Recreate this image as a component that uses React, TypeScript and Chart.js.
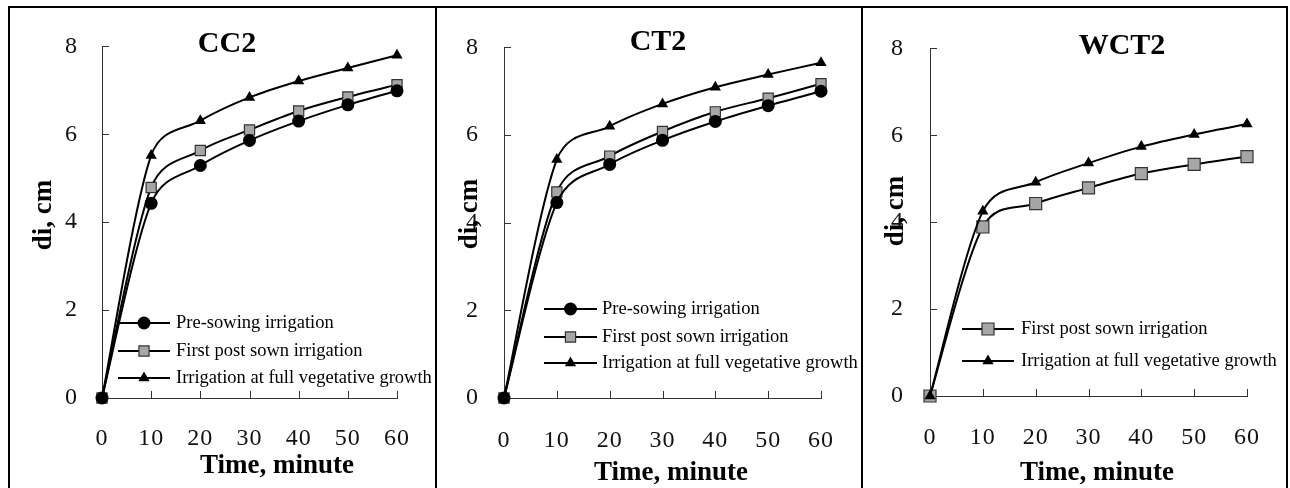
import React, { useEffect, useRef } from 'react';
import { Chart, registerables } from 'chart.js';

Chart.register(...registerables);

// ---------- data ----------
const timeMinutes = [0, 10, 20, 30, 40, 50, 60];
const yTickStep = 2;
const xTickStep = 10;

const cc2PreSowing = [0, 4.43, 5.29, 5.86, 6.3, 6.67, 6.99];
const cc2FirstPost = [0, 4.79, 5.63, 6.1, 6.53, 6.85, 7.13];
const cc2FullVeg = [0, 5.52, 6.31, 6.84, 7.21, 7.51, 7.8];

const ct2PreSowing = [0, 4.46, 5.33, 5.88, 6.31, 6.67, 7.0];
const ct2FirstPost = [0, 4.7, 5.52, 6.08, 6.53, 6.84, 7.17];
const ct2FullVeg = [0, 5.44, 6.2, 6.71, 7.09, 7.38, 7.65];

const wct2FirstPost = [0, 3.89, 4.43, 4.79, 5.12, 5.33, 5.51];
const wct2FullVeg = [0, 4.25, 4.92, 5.36, 5.74, 6.02, 6.26];

const labelPreSowing = 'Pre-sowing irrigation';
const labelFirstPost = 'First post sown irrigation';
const labelFullVeg = 'Irrigation at full vegetative growth';

const xAxisTitle = 'Time, minute';
const yAxisTitle = 'di, cm';

// ---------- styles ----------
const SERIF = '"Liberation Serif", "Times New Roman", Times, serif';

type SeriesStyle = {
  pointStyle: 'circle' | 'rect' | 'triangle';
  radius: number;
  fill: string;
  stroke: string;
  pointBorderWidth: number;
};

const stylePre: SeriesStyle = { pointStyle: 'circle', radius: 6.5, fill: '#000', stroke: '#000', pointBorderWidth: 0 };
const styleFirst: SeriesStyle = { pointStyle: 'rect', radius: 7.2, fill: '#a6a6a6', stroke: '#333', pointBorderWidth: 1.2 };
const styleFirstBig: SeriesStyle = { pointStyle: 'rect', radius: 8.5, fill: '#a6a6a6', stroke: '#333', pointBorderWidth: 1.2 };
const styleFull: SeriesStyle = { pointStyle: 'triangle', radius: 6.5, fill: '#000', stroke: '#000', pointBorderWidth: 0 };

type Series = { label: string; values: number[]; style: SeriesStyle; order: number };

type PanelCfg = {
  title: string;
  series: Series[];
  boxLeft: number;
  boxWidth: number;
  area: { left: number; top: number; right: number; bottom: number };
  yTickPad: number;
  xTickPad: number;
  titlePos: [number, number];
  yTitlePos: [number, number];
  xTitlePos: [number, number];
  legend: { x1: number; x2: number; tx: number; rows: number[] };
};

const CANVAS_H = 480;

const panels: PanelCfg[] = [
  {
    title: 'CC2',
    series: [
      { label: labelPreSowing, values: cc2PreSowing, style: stylePre, order: 0 },
      { label: labelFirstPost, values: cc2FirstPost, style: styleFirst, order: 1 },
      { label: labelFullVeg, values: cc2FullVeg, style: styleFull, order: 2 },
    ],
    boxLeft: 8,
    boxWidth: 429,
    area: { left: 92, top: 16, right: 403, bottom: 390 },
    yTickPad: 24,
    xTickPad: 26,
    titlePos: [217, 36],
    yTitlePos: [34.5, 207],
    xTitlePos: [267, 458],
    legend: { x1: 108, x2: 160, tx: 166, rows: [315, 343, 370] },
  },
  {
    title: 'CT2',
    series: [
      { label: labelPreSowing, values: ct2PreSowing, style: stylePre, order: 0 },
      { label: labelFirstPost, values: ct2FirstPost, style: styleFirst, order: 1 },
      { label: labelFullVeg, values: ct2FullVeg, style: styleFull, order: 2 },
    ],
    boxLeft: 435,
    boxWidth: 428,
    area: { left: 67, top: 22, right: 401, bottom: 390 },
    yTickPad: 25,
    xTickPad: 28,
    titlePos: [221, 34],
    yTitlePos: [33, 206],
    xTitlePos: [234, 465],
    legend: { x1: 107, x2: 160, tx: 165, rows: [301, 329, 355] },
  },
  {
    title: 'WCT2',
    series: [
      { label: labelFirstPost, values: wct2FirstPost, style: styleFirstBig, order: 1 },
      { label: labelFullVeg, values: wct2FullVeg, style: styleFull, order: 0 },
    ],
    boxLeft: 861,
    boxWidth: 427,
    area: { left: 67, top: 18, right: 400, bottom: 388 },
    yTickPad: 26,
    xTickPad: 27,
    titlePos: [259, 38],
    yTitlePos: [33, 203],
    xTitlePos: [234, 465],
    legend: { x1: 99, x2: 151, tx: 158, rows: [321, 353] },
  },
];

function drawMarker(ctx: CanvasRenderingContext2D, s: SeriesStyle, x: number, y: number) {
  const r = s.radius;
  ctx.beginPath();
  if (s.pointStyle === 'circle') {
    ctx.arc(x, y, r, 0, Math.PI * 2);
  } else if (s.pointStyle === 'rect') {
    const h = r * Math.SQRT1_2;
    ctx.rect(x - h, y - h, 2 * h, 2 * h);
  } else {
    ctx.moveTo(x, y - r);
    ctx.lineTo(x + r * Math.sin((2 * Math.PI) / 3), y - r * Math.cos((2 * Math.PI) / 3));
    ctx.lineTo(x + r * Math.sin((4 * Math.PI) / 3), y - r * Math.cos((4 * Math.PI) / 3));
    ctx.closePath();
  }
  ctx.fillStyle = s.fill;
  ctx.fill();
  if (s.pointBorderWidth) {
    ctx.lineWidth = s.pointBorderWidth;
    ctx.strokeStyle = s.stroke;
    ctx.stroke();
  }
}

const ARM_CAP = 0.5;

function Panel({ cfg }: { cfg: PanelCfg }) {
  const ref = useRef<HTMLCanvasElement>(null);
  const W = cfg.boxWidth - 4;

  useEffect(() => {
    if (!ref.current) return;
    const decor = {
      id: 'decor',
      beforeDraw(chart: any) {
        try {
          (chart.ctx as any).letterSpacing = '1px';
        } catch (e) {}
      },
      beforeDatasetsDraw(chart: any) {
        const { ctx, chartArea, scales } = chart;
        try {
          (ctx as any).letterSpacing = '0px';
        } catch (e) {}
        ctx.save();
        ctx.strokeStyle = '#333';
        ctx.lineWidth = 1;
        const yS = scales.y;
        for (const t of yS.ticks) {
          const py = Math.round(yS.getPixelForValue(t.value)) + 0.5;
          ctx.beginPath();
          ctx.moveTo(chartArea.left, py);
          ctx.lineTo(chartArea.left + 7, py);
          ctx.stroke();
        }
        const xS = scales.x;
        for (const t of xS.ticks) {
          if (t.value === 0) continue;
          const px = Math.round(xS.getPixelForValue(t.value)) + 0.5;
          ctx.beginPath();
          ctx.moveTo(px, chartArea.bottom);
          ctx.lineTo(px, chartArea.bottom - 7);
          ctx.stroke();
        }
        ctx.restore();
      },
      beforeDatasetDraw(chart: any, args: any) {
        // Excel-like smoothing: tangent (next - prev), arm = |tangent|/6,
        // capped to a fraction of the adjacent segment length
        const meta = args.meta;
        const pts = meta.data;
        const n = pts.length;
        for (let i = 0; i < n; i++) {
          const prev = pts[Math.max(i - 1, 0)];
          const next = pts[Math.min(i + 1, n - 1)];
          const cur = pts[i];
          const tx = next.x - prev.x;
          const ty = next.y - prev.y;
          const tl = Math.hypot(tx, ty) || 1;
          const ux = tx / tl;
          const uy = ty / tl;
          const dPrev = Math.hypot(cur.x - prev.x, cur.y - prev.y);
          const dNext = Math.hypot(next.x - cur.x, next.y - cur.y);
          const a1 = Math.min(tl / 6, ARM_CAP * dPrev);
          const a2 = Math.min(tl / 6, ARM_CAP * dNext);
          cur.cp1x = cur.x - ux * a1;
          cur.cp1y = cur.y - uy * a1;
          cur.cp2x = cur.x + ux * a2;
          cur.cp2y = cur.y + uy * a2;
        }
        if (meta.dataset) {
          meta.dataset._pointsUpdated = true;
          meta.dataset._path = undefined;
        }
      },
      afterDraw(chart: any) {
        const { ctx } = chart;
        ctx.save();
        try {
          (ctx as any).letterSpacing = '0px';
        } catch (e) {}
        ctx.fillStyle = '#000';
        ctx.textAlign = 'center';
        ctx.textBaseline = 'middle';
        ctx.font = `bold 30px ${SERIF}`;
        ctx.fillText(cfg.title, cfg.titlePos[0], cfg.titlePos[1]);
        ctx.font = `bold 27px ${SERIF}`;
        ctx.fillText(xAxisTitle, cfg.xTitlePos[0], cfg.xTitlePos[1]);
        ctx.save();
        ctx.translate(cfg.yTitlePos[0], cfg.yTitlePos[1]);
        ctx.rotate(-Math.PI / 2);
        ctx.fillText(yAxisTitle, 0, 0);
        ctx.restore();
        const lg = cfg.legend;
        cfg.series.forEach((s, i) => {
          const y = lg.rows[i];
          ctx.strokeStyle = '#000';
          ctx.lineWidth = 2;
          ctx.beginPath();
          ctx.moveTo(lg.x1, y);
          ctx.lineTo(lg.x2, y);
          ctx.stroke();
          drawMarker(ctx, s.style, (lg.x1 + lg.x2) / 2, y);
          ctx.fillStyle = '#000';
          ctx.textAlign = 'left';
          ctx.textBaseline = 'middle';
          ctx.font = `18.5px ${SERIF}`;
          ctx.fillText(s.label, lg.tx, y);
        });
        ctx.restore();
      },
    };

    const tickFont = { family: SERIF, size: 24 };
    const chart = new Chart(ref.current, {
      type: 'line',
      data: {
        datasets: cfg.series.map((s) => ({
          label: s.label,
          data: timeMinutes.map((t, i) => ({ x: t, y: s.values[i] })),
          borderColor: '#000',
          borderWidth: 2,
          tension: 0.4,
          fill: false,
          clip: false as any,
          order: s.order,
          pointStyle: s.style.pointStyle,
          pointRadius: s.style.radius,
          pointBackgroundColor: s.style.fill,
          pointBorderColor: s.style.stroke,
          pointBorderWidth: s.style.pointBorderWidth,
        })),
      },
      options: {
        responsive: false,
        animation: false,
        devicePixelRatio: 1,
        events: [],
        layout: {
          padding: { left: 0, top: cfg.area.top, right: W - cfg.area.right, bottom: 0 },
        },
        plugins: {
          legend: { display: false },
          tooltip: { enabled: false },
          title: { display: false },
        },
        scales: {
          x: {
            type: 'linear',
            min: 0,
            max: 60,
            afterFit: (s: any) => {
              s.height = CANVAS_H - cfg.area.bottom;
            },
            ticks: {
              stepSize: xTickStep,
              padding: cfg.xTickPad,
              color: '#111',
              font: tickFont,
              maxRotation: 0,
              autoSkip: false,
            },
            grid: { display: false, drawTicks: false },
            border: { display: true, color: '#333', width: 1 },
          },
          y: {
            type: 'linear',
            min: 0,
            max: 8,
            afterFit: (s: any) => {
              s.width = cfg.area.left;
            },
            ticks: {
              stepSize: yTickStep,
              padding: cfg.yTickPad,
              color: '#111',
              font: tickFont,
            },
            grid: { display: false, drawTicks: false },
            border: { display: true, color: '#333', width: 1 },
          },
        },
      } as any,
      plugins: [decor],
    });
    return () => chart.destroy();
  }, []);

  return (
    <div
      style={{
        position: 'absolute',
        left: cfg.boxLeft,
        top: 6,
        width: cfg.boxWidth,
        height: 500,
        border: '2px solid #000',
        boxSizing: 'border-box',
        background: '#fff',
      }}
    >
      <canvas
        ref={ref}
        width={W}
        height={CANVAS_H}
        style={{ position: 'absolute', left: 0, top: 0, width: W, height: CANVAS_H }}
      />
    </div>
  );
}

export default function App() {
  return (
    <div
      style={{
        position: 'absolute',
        left: 0,
        top: 0,
        width: 1290,
        height: 488,
        overflow: 'hidden',
        background: '#fff',
      }}
    >
      {panels.map((p) => (
        <Panel key={p.title} cfg={p} />
      ))}
    </div>
  );
}
